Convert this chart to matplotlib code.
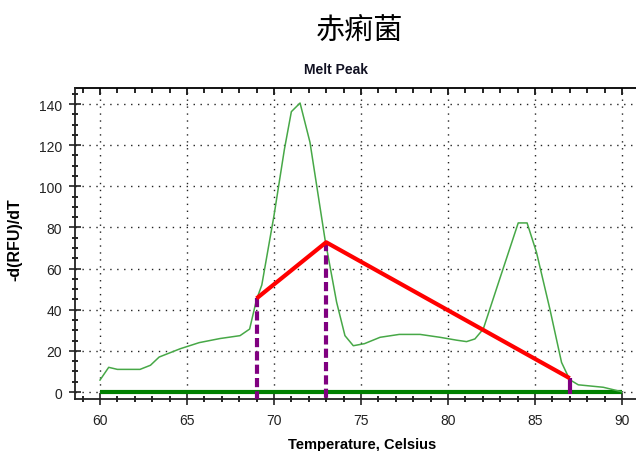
import matplotlib
matplotlib.use('Agg')
import matplotlib.pyplot as plt
from matplotlib.ticker import MultipleLocator

plt.rcParams['font.family'] = ['Liberation Sans', 'DejaVu Sans']

# melt peak curve
temp = [60.0, 60.5, 61.0, 62.3, 62.9, 63.4, 64.6, 65.7, 66.9, 68.05, 68.6, 69.0, 69.3,
        70.0, 70.6, 71.0, 71.5, 72.07, 72.93, 73.6, 74.08, 74.56, 75.2, 76.1, 77.2,
        78.4, 79.54, 80.5, 81.07, 81.55, 82.03, 82.9, 84.04, 84.55, 85.09, 85.86,
        86.53, 87.0, 87.49, 88.93, 89.98]
dfdt = [5.8, 12, 11, 11, 13, 17, 21, 24, 26, 27.4, 30.6, 45, 52,
        85.7, 118, 136.3, 140.5, 121.4, 74.4, 43.7, 27.4, 22.5, 23.5, 26.6, 28,
        28, 26.6, 25.2, 24.5, 25.8, 30.6, 53, 82.2, 82.2, 67.9, 40.3,
        14.4, 6.0, 3.5, 2.3, 0.15]

base_x = [60, 90]
base_y = [0, 0]

red_x = [69, 73, 87]
red_y = [45.5, 72.8, 6.7]

dash_x = [69, 73]
solid_x = [87]

xmin, xmax = 58.563, 91.5
ymin, ymax = -3.4, 147.8

fig = plt.figure(figsize=(6.36, 4.52), dpi=100)
ax = fig.add_axes([75 / 636, 52 / 452, 573 / 636, 311 / 452])
ax.set_xlim(xmin, xmax)
ax.set_ylim(ymin, ymax)

ax.plot(base_x, base_y, color='#008000', lw=3, solid_capstyle='butt', zorder=3)
ax.plot(temp, dfdt, color='#47a847', lw=1.1, zorder=4)
for x in dash_x:
    top = red_y[red_x.index(x)]
    ax.plot([x, x], [top, ymin], color='#800080', lw=3,
            linestyle=(0, (2.2, 1.0)), zorder=5, clip_on=False)
for x in solid_x:
    top = red_y[red_x.index(x)]
    ax.plot([x, x], [top, -1], color='#800080', lw=3, solid_capstyle='butt', zorder=5)
ax.plot(red_x, red_y, color='#ff0000', lw=3, solid_capstyle='butt', zorder=6)

ax.xaxis.set_major_locator(MultipleLocator(5))
ax.xaxis.set_minor_locator(MultipleLocator(1))
ax.yaxis.set_major_locator(MultipleLocator(20))
ax.yaxis.set_minor_locator(MultipleLocator(5))
ax.grid(True, which='major', color='#222222', linestyle=(0, (1, 4)), lw=1.0)

ax.tick_params(which='major', direction='inout', length=8.5, width=1.2,
               labelsize=10, colors='#222222', pad=5)
ax.tick_params(which='minor', direction='inout', length=4.5, width=1.2)
ax.tick_params(axis='x', pad=6)

sec = ax.secondary_xaxis('top')
sec.xaxis.set_major_locator(MultipleLocator(5))
sec.xaxis.set_minor_locator(MultipleLocator(1))
sec.tick_params(which='major', direction='in', length=5, width=1.2, labeltop=False)
sec.tick_params(which='minor', direction='in', length=3.5, width=1.2)
sec.spines['top'].set_linewidth(1.3)

for s in ['left', 'bottom']:
    ax.spines[s].set_linewidth(1.3)
    ax.spines[s].set_color('#222222')
ax.spines['top'].set_visible(False)

ax.set_xlabel('Temperature, Celsius', fontsize=10.5, fontweight='bold')
ax.set_ylabel('-d(RFU)/dT', fontsize=11.5, fontweight='bold')
ax.xaxis.set_label_coords((362 - 75) / 573, -(438 - 400) / 311)
ax.yaxis.set_label_coords(-(75 - 22) / 573, (400 - 240) / 311)

fig.text(360 / 636, 1 - 32 / 452, '赤痢菌', fontsize=21,
         family=['Noto Sans CJK SC', 'DejaVu Sans'], ha='center', va='center')
fig.text(336 / 636, 1 - 70 / 452, 'Melt Peak', fontsize=10, fontweight='bold',
         ha='center', va='center', color='#111122')

fig.savefig('out.png', dpi=100)
